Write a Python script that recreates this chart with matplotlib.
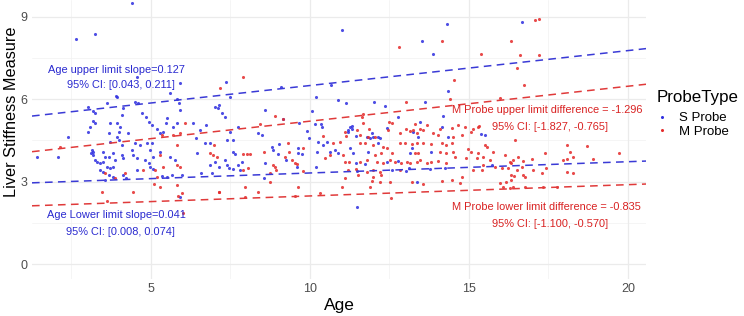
import matplotlib
matplotlib.use("Agg")
import matplotlib.pyplot as plt
from matplotlib.lines import Line2D

plt.rcParams['font.family'] = ['Liberation Sans', 'DejaVu Sans']

# ---- data: (Age, Liver Stiffness Measure) ----
s_age = [4.40, 2.64, 3.25, 11.0, 14.30, 13.54, 13.86, 14.35, 16.68, 9.08, 10.65, 10.18, 10.89, 11.14,
         12.01, 12.36, 13.62, 8.58, 10.07, 9.16, 12.78, 14.19, 8.37, 8.48, 9.66, 10.16, 10.35, 10.37,
         9.92, 11.26, 11.20, 11.31, 12.41, 13.25, 14.17, 15.50, 11.45, 11.89, 12.15, 12.20,
         3.90, 5.60, 5.83, 5.89, 3.61, 3.03, 3.19, 3.24, 4.13, 4.50, 4.60, 4.08, 4.71, 4.84, 5.49, 5.91,
         3.19, 3.24, 3.08, 3.03, 3.92, 4.03, 4.00, 4.95, 5.02, 4.29, 3.71, 3.69, 5.47, 5.70, 5.81, 5.20,
         5.28, 5.39, 4.88, 5.02, 4.50, 4.65, 3.94, 4.00, 4.08, 3.71, 3.14, 3.19, 3.10, 3.19, 3.24, 3.50,
         3.55, 3.81, 3.69, 3.87, 4.08, 4.13, 4.39, 4.44, 4.57, 4.97, 5.05, 5.28, 4.81, 4.95, 5.60, 5.75,
         3.50, 3.61, 3.40, 3.50, 3.71, 4.55, 4.97, 5.05, 3.69, 3.81, 4.13, 4.21, 5.34, 5.49, 5.65, 5.99,
         3.55, 5.91, 3.29, 3.40, 3.81, 2.40, 2.09, 7.36, 7.22, 7.33, 7.12, 7.48, 7.75, 5.91, 3.92, 4.55,
         7.01, 7.15, 6.33, 6.73, 6.54, 6.42, 7.48, 7.58, 7.38, 6.70, 6.86, 9.03, 9.98, 10.26, 6.44, 7.58,
         7.64, 8.80, 8.83, 9.00, 9.63, 9.74, 9.63, 6.86, 7.01, 7.15, 7.33, 7.38, 7.75, 7.85, 7.46, 7.58,
         7.80, 8.58, 9.60, 10.18, 10.21, 9.26, 6.59, 6.91, 8.55, 11.31, 11.19, 11.94, 11.78, 11.99, 13.46,
         13.41, 14.35, 10.53, 10.42, 12.15, 13.20, 13.14, 13.82, 10.63, 10.79, 10.89, 11.26, 11.36, 11.83,
         11.46, 11.73, 12.41, 12.78, 12.57, 11.49, 13.02, 13.12, 13.77, 14.25, 13.36, 11.49, 15.37, 15.74,
         1.42]
s_lsm = [9.49, 8.18, 8.37, 8.51, 8.72, 8.11, 7.62, 6.30, 8.80, 6.42, 6.51, 6.08, 5.96, 5.84,
         5.90, 5.75, 5.90, 5.60, 5.56, 5.26, 5.36, 5.38, 4.75, 4.69, 5.12, 5.09, 5.09, 4.99,
         4.85, 4.99, 4.87, 4.90, 4.93, 4.81, 4.99, 4.69, 4.65, 4.59, 4.63, 4.59,
         6.11, 6.21, 5.99, 5.87, 5.84, 5.72, 5.57, 5.50, 5.66, 5.90, 5.84, 5.42, 5.48, 5.36, 5.30, 5.60,
         5.21, 5.12, 4.99, 4.81, 5.12, 4.99, 4.81, 5.17, 5.05, 4.78, 5.12, 4.75, 5.12, 4.99, 5.14, 4.90,
         4.75, 4.81, 4.41, 4.39, 4.39, 4.33, 4.63, 4.51, 4.33, 4.45, 4.15, 4.08, 4.03, 3.96, 3.78, 4.08,
         3.90, 4.03, 3.90, 3.78, 3.96, 3.84, 4.15, 3.96, 3.84, 4.15, 3.90, 4.08, 3.78, 3.66, 3.90, 3.78,
         3.72, 3.54, 3.42, 3.36, 3.48, 3.42, 3.54, 3.44, 3.24, 3.17, 3.24, 3.12, 3.20, 3.17, 3.24, 3.24,
         3.05, 2.45, 3.72, 3.66, 3.54, 4.61, 3.90, 6.63, 5.48, 5.36, 5.66, 6.08, 4.99, 6.57, 6.08, 6.81,
         5.72, 5.78, 5.12, 5.05, 4.87, 4.57, 4.81, 4.51, 4.51, 4.39, 4.39, 4.36, 4.57, 4.45, 4.03, 4.08,
         4.00, 4.27, 4.15, 4.00, 4.03, 4.00, 4.21, 3.60, 3.72, 3.52, 3.78, 3.60, 3.60, 3.72, 3.48, 3.44,
         3.42, 3.68, 3.52, 3.54, 4.08, 3.78, 3.32, 3.30, 3.12, 5.02, 4.81, 4.78, 4.63, 4.61, 5.17,
         4.61, 4.63, 4.45, 4.33, 4.41, 4.21, 4.03, 4.08, 4.08, 4.15, 4.03, 4.21, 4.03, 4.06,
         3.66, 3.64, 3.72, 3.76, 3.42, 3.39, 3.39, 3.48, 3.44, 3.48, 2.99, 2.08, 4.73, 3.60,
         3.90]

m_age = [7.90, 7.17, 14.17, 12.80, 15.37, 14.53, 14.40, 13.01, 8.90, 8.43, 11.65, 11.49, 11.86, 12.57,
         13.02, 13.14, 13.30, 13.46, 13.56, 14.46, 14.87, 15.08, 15.29, 11.83, 12.04,
         6.07, 5.91, 5.70, 5.34, 5.81, 5.28, 5.39, 5.81, 5.91, 5.13, 5.18, 4.76, 3.87, 3.45, 4.44, 5.28,
         5.81, 5.86, 2.14, 3.63, 5.97, 6.00, 7.14, 7.96, 3.55, 4.18, 5.09,
         9.16, 6.98, 9.31, 6.86, 6.96, 7.90, 8.01, 8.11, 8.55, 9.35, 9.79, 9.21, 7.07, 8.05, 7.90, 8.84,
         8.90, 8.93, 9.45, 9.53, 9.58, 9.77, 8.74, 7.15, 7.96, 8.37, 9.63, 9.53, 8.76,
         11.68, 11.66, 12.49, 13.67, 11.10, 11.15, 11.57, 12.46, 12.83, 13.25, 13.36, 13.88, 14.03, 14.09,
         10.42, 10.94, 10.73, 11.57, 11.73, 11.99, 12.31, 12.41, 12.83, 12.99, 13.20, 13.36, 13.56,
         13.82, 14.14, 14.29, 13.30, 13.41, 14.09, 14.29, 10.47, 10.63, 11.03, 12.04, 12.25, 12.57,
         11.10, 11.24, 11.57, 11.78, 12.10, 12.31, 12.52, 12.68, 12.88, 13.04, 13.14, 13.36, 13.46,
         13.67, 13.82, 14.03, 14.29, 11.20, 11.46, 11.78, 11.99, 12.20, 12.83, 11.52, 11.99, 12.25,
         11.10, 11.94, 12.20, 12.52, 13.20, 13.56, 11.00, 11.89, 10.31, 12.54,
         14.67, 14.77, 15.13, 15.32, 14.51, 16.45, 18.07, 14.46, 14.51, 14.56, 14.97, 15.08, 15.50, 15.56,
         15.29, 15.76, 14.92, 15.24, 15.45, 15.66, 16.29, 16.40, 16.71, 17.39, 18.18, 18.28, 17.97,
         15.45, 15.82, 16.03, 15.13, 15.40, 14.77, 16.24, 16.50, 16.66, 17.03, 17.29, 17.44, 18.07, 18.28,
         15.97, 16.08, 16.40, 16.34, 14.72, 14.46, 16.76, 17.34, 17.76, 18.72, 18.89, 19.73,
         17.08, 17.21, 16.31, 16.60, 17.21, 16.50, 16.73, 15.97, 16.13, 16.55, 16.97, 18.07,
         16.18, 16.34, 16.41, 16.71, 16.76, 16.34, 16.29, 14.14]
m_lsm = [6.81, 6.41, 8.11, 7.90, 7.62, 6.69, 5.99, 5.90, 5.39, 5.09, 5.33, 4.87, 4.90, 5.12,
         4.90, 4.85, 5.09, 4.90, 4.87, 4.93, 4.99, 4.81, 4.99, 4.63, 4.63,
         5.12, 4.75, 4.69, 4.69, 4.33, 3.96, 3.54, 3.60, 3.52, 3.42, 3.15, 3.42, 3.12, 2.63, 2.63, 2.81,
         2.87, 2.47, 4.27, 2.29, 2.59, 1.84, 2.61, 2.45, 3.30, 3.32, 2.91,
         5.26, 4.33, 4.41, 4.03, 3.96, 4.00, 4.00, 4.00, 4.08, 4.08, 4.21, 3.90, 3.90, 3.48, 3.42, 3.60,
         3.52, 3.42, 3.78, 3.68, 3.64, 3.39, 3.32, 2.63, 2.79, 2.61, 2.79, 2.47, 2.99,
         5.45, 5.12, 5.17, 5.05, 4.81, 4.65, 4.69, 4.87, 4.78, 4.87, 4.75, 4.75, 4.69, 4.90,
         4.65, 4.45, 4.39, 4.39, 4.41, 4.33, 4.27, 4.21, 4.41, 4.39, 4.36, 4.39, 4.41,
         4.36, 4.41, 4.33, 4.03, 4.03, 4.08, 4.03, 3.84, 3.96, 3.96, 3.96, 4.03, 4.03,
         3.72, 3.72, 3.72, 3.78, 3.72, 3.68, 3.78, 3.72, 3.66, 3.72, 3.68, 3.72, 3.78,
         3.66, 3.72, 3.76, 3.68, 3.42, 3.44, 3.36, 3.42, 3.36, 3.42, 3.24, 3.17, 3.24,
         3.12, 3.03, 2.99, 2.99, 2.99, 2.91, 2.79, 2.79, 2.57, 2.39,
         5.05, 4.69, 4.90, 5.02, 4.63, 4.51, 4.33, 4.39, 4.08, 3.90, 4.17, 4.08, 4.33, 4.24,
         4.03, 4.08, 3.84, 3.84, 3.90, 3.78, 3.72, 3.78, 3.76, 4.03, 4.08, 3.90, 3.78,
         3.60, 3.54, 3.48, 3.42, 3.42, 3.17, 3.48, 3.42, 3.54, 3.42, 3.30, 3.48, 3.36, 3.30,
         2.93, 2.81, 2.81, 3.05, 2.93, 3.05, 2.81, 2.79, 2.81, 4.29, 3.81, 4.03,
         8.87, 8.91, 8.11, 7.60, 7.60, 7.12, 6.51, 6.04, 3.96, 3.90, 3.81, 3.81,
         2.99, 3.24, 3.20, 3.24, 3.17, 3.68, 2.75, 3.03]

# quantile-regression limit lines (intercept, slope)
s_upper = (5.22, 0.127)
s_lower = (2.90, 0.041)
m_upper_diff = -1.296
m_lower_diff = -0.835

legend_title = "ProbeType"
probe_labels = ["S Probe", "M Probe"]
x_ticks = [5, 10, 15, 20]
y_ticks = [0, 3, 6, 9]

BLUE = '#2f2fe0'
RED = '#e52b2b'
BLUE_T = '#2a2ad0'
RED_T = '#d92222'

fig = plt.figure(figsize=(7.44, 3.16), dpi=100)
ax = fig.add_axes([32/744, 1 - 279/316, 614/744, 279/316])
xlim = (1.26, 20.57)
ylim = (-0.545, 9.6)
ax.set_xlim(*xlim)
ax.set_ylim(*ylim)

# grid (theme_minimal style)
for v in [2.5, 7.5, 12.5, 17.5]:
    ax.axvline(v, color='#f2f2f2', lw=0.5, zorder=0)
for v in [1.5, 4.5, 7.5]:
    ax.axhline(v, color='#f2f2f2', lw=0.5, zorder=0)
for v in x_ticks:
    ax.axvline(v, color='#ebebeb', lw=0.9, zorder=0)
for v in y_ticks:
    ax.axhline(v, color='#ebebeb', lw=0.9, zorder=0)

ax.scatter(s_age, s_lsm, s=5, color=BLUE, alpha=0.85, linewidths=0, zorder=2)
ax.scatter(m_age, m_lsm, s=5, color=RED, alpha=0.85, linewidths=0, zorder=2)

xs = list(xlim)
def line(b0, b1, color):
    ax.plot(xs, [b0 + b1 * x for x in xs], color=color, lw=1.1, ls=(0, (5, 3.5)), zorder=3)

line(s_upper[0], s_upper[1], '#3a3ad6')
line(s_lower[0], s_lower[1], '#3a3ad6')
line(s_upper[0] + m_upper_diff, s_upper[1], '#e03a3a')
line(s_lower[0] + m_lower_diff, s_lower[1], '#e03a3a')

fs = 7.9
ax.text(3.93, 7.05, "Age upper limit slope=0.127", color=BLUE_T, fontsize=fs, ha='center', va='center')
ax.text(4.06, 6.50, "95% CI: [0.043, 0.211]", color=BLUE_T, fontsize=fs, ha='center', va='center')
ax.text(3.93, 1.78, "Age Lower limit slope=0.041", color=BLUE_T, fontsize=fs, ha='center', va='center')
ax.text(4.04, 1.17, "95% CI: [0.008, 0.074]", color=BLUE_T, fontsize=fs, ha='center', va='center')
ax.text(17.45, 5.60, "M Probe upper limit difference = -1.296", color=RED_T, fontsize=fs, ha='center', va='center')
ax.text(17.55, 4.99, "95% CI: [-1.827, -0.765]", color=RED_T, fontsize=fs, ha='center', va='center')
ax.text(17.45, 2.08, "M Probe lower limit difference = -0.835", color=RED_T, fontsize=fs, ha='center', va='center')
ax.text(17.55, 1.47, "95% CI: [-1.100, -0.570]", color=RED_T, fontsize=fs, ha='center', va='center')

ax.set_xticks(x_ticks)
ax.set_yticks(y_ticks)
ax.tick_params(length=0, labelsize=9, labelcolor='#4d4d4d', pad=3)
for sp in ax.spines.values():
    sp.set_visible(False)
ax.set_xlabel("Age", fontsize=12.5, labelpad=2)
ax.set_ylabel("Liver Stiffness Measure", fontsize=11.7, va='center')
ax.yaxis.set_label_coords(-0.033, (279 - 112) / 279)

fig.text(657/744, 1 - 97/316, legend_title, fontsize=12.2, ha='left', va='center')
handles = [Line2D([], [], ls='none', marker='o', markersize=2.2, color=BLUE, markeredgewidth=0),
           Line2D([], [], ls='none', marker='o', markersize=2.2, color=RED, markeredgewidth=0)]
fig.legend(handles, probe_labels, loc='upper left',
           bbox_to_anchor=(655/744, 1 - 112/316), frameon=False, fontsize=9.5,
           handlelength=1.0, handletextpad=0.8, labelspacing=0.1,
           borderpad=0, borderaxespad=0)

fig.savefig("out.png", dpi=100)
